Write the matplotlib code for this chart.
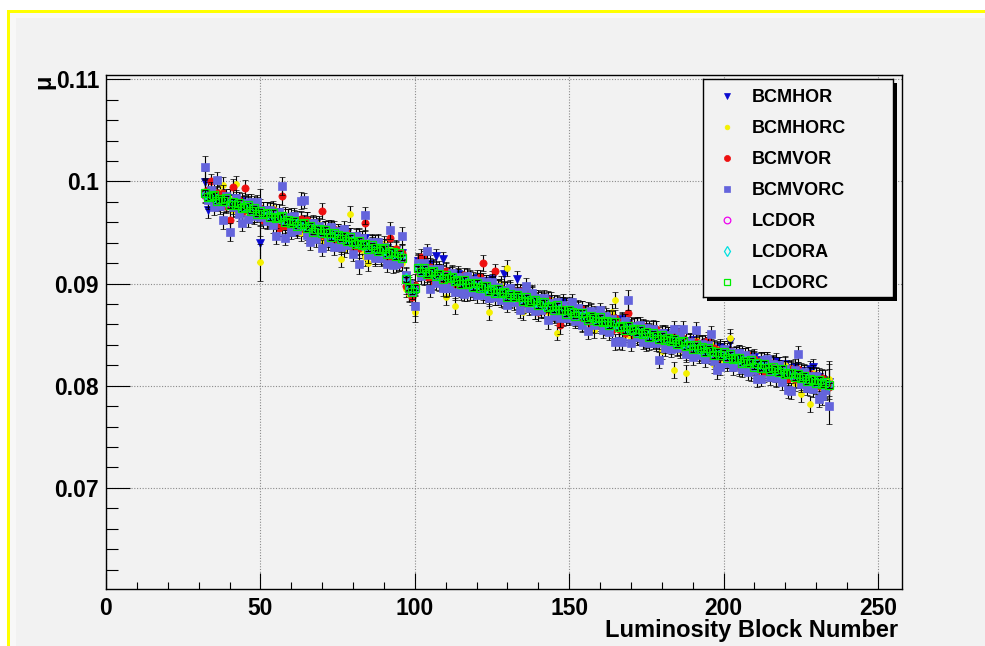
import numpy as np
import matplotlib
matplotlib.use("Agg")
import matplotlib.pyplot as plt
from matplotlib.patches import Rectangle
from matplotlib.ticker import MultipleLocator, FuncFormatter

plt.rcParams['font.family'] = ['Liberation Sans', 'DejaVu Sans']
plt.rcParams['font.weight'] = 'bold'

# Luminosity blocks 32 .. 234
lumi_block = np.arange(32, 235)

# mu per luminosity block for each algorithm, in units of 1e-5
bcmhor = [
    9995, 9720, 9830, 9851, 9787, 9882, 9828, 9773, 9834, 9774,
    9800, 9725, 9811, 9731, 9767, 9667, 9738, 9753, 9393, 9664,
    9720, 9640, 9676, 9701, 9597, 9642, 9603, 9648, 9549, 9619,
    9550, 9620, 9586, 9506, 9577, 9522, 9583, 9478, 9519, 9534,
    9470, 9530, 9426, 9476, 9492, 9412, 9493, 9413, 9364, 9429,
    9440, 9360, 9446, 9326, 9377, 9402, 9303, 9343, 9259, 9349,
    9330, 9245, 9331, 9251, 9297, 9070, 8905, 8955, 8910, 9220,
    9191, 9163, 9084, 9196, 9157, 9269, 9110, 9242, 9118, 9035,
    9086, 9003, 9094, 9041, 8967, 9059, 9005, 8957, 9053, 9010,
    9021, 8928, 8989, 9046, 8897, 8959, 8970, 9092, 8853, 8940,
    8916, 9048, 8829, 8911, 8867, 8789, 8895, 8832, 8773, 8850,
    8751, 8838, 8794, 8706, 8802, 8724, 8820, 8742, 8673, 8750,
    8756, 8668, 8754, 8636, 8692, 8724, 8600, 8677, 8683, 8610,
    8656, 8573, 8664, 8611, 8537, 8649, 8550, 8607, 8578, 8510,
    8581, 8503, 8574, 8461, 8532, 8559, 8450, 8497, 8423, 8520,
    8421, 8493, 8454, 8371, 8487, 8389, 8440, 8347, 8443, 8400,
    8406, 8323, 8414, 8321, 8382, 8279, 8345, 8382, 8268, 8345,
    8431, 8233, 8309, 8316, 8217, 8294, 8180, 8257, 8283, 8180,
    8256, 8158, 8254, 8211, 8117, 8244, 8175, 8112, 8213, 8170,
    8151, 8183, 8059, 8146, 8102, 8029, 8160, 8180, 8063, 8090,
    8066, 7993, 8039,
]

bcmhorc = [
    9910, 9810, 9876, 9901, 9797, 9892, 9963, 9783, 9839, 9724,
    9975, 9720, 9786, 9676, 9792, 9747, 9678, 9773, 9210, 9724,
    9620, 9705, 9741, 9611, 9667, 9557, 9673, 9583, 9664, 9549,
    9630, 9495, 9596, 9621, 9492, 9557, 9493, 9588, 9419, 9539,
    9440, 9540, 9441, 9506, 9240, 9342, 9473, 9677, 9344, 9364,
    9445, 9325, 9256, 9200, 9397, 9267, 9368, 9283, 9384, 9239,
    9340, 9235, 9351, 9236, 9202, 8950, 8895, 8960, 8720, 9100,
    9181, 9063, 9149, 9066, 9167, 9059, 9005, 9112, 8870, 9085,
    8991, 8780, 9074, 8951, 9042, 8914, 9055, 8947, 8958, 9025,
    8921, 9013, 8720, 8986, 8862, 8954, 9000, 8857, 9150, 8855,
    8921, 8798, 8889, 8721, 8897, 8794, 8890, 8727, 8833, 8745,
    8831, 8723, 8844, 8721, 8520, 8784, 8660, 8787, 8693, 8775,
    8656, 8743, 8614, 8711, 8737, 8624, 8545, 8697, 8603, 8700,
    8576, 8673, 8724, 8840, 8547, 8634, 8500, 8597, 8463, 8590,
    8596, 8478, 8559, 8416, 8557, 8459, 8555, 8417, 8338, 8505,
    8411, 8498, 8150, 8466, 8347, 8469, 8120, 8427, 8328, 8450,
    8416, 8293, 8384, 8296, 8412, 8204, 8355, 8252, 8358, 8255,
    8470, 8223, 8309, 8176, 8307, 8204, 8300, 8122, 8253, 8145,
    8251, 8118, 8219, 8126, 8227, 8064, 8175, 8077, 8203, 8080,
    8171, 8023, 8139, 7920, 8127, 8009, 7820, 8122, 7998, 8070,
    7976, 8058, 8069,
]

bcmvor = [
    9900, 9920, 10000, 9801, 9887, 9797, 9883, 9758, 9620, 9944,
    9740, 9820, 9696, 9940, 9777, 9677, 9783, 9678, 9744, 9619,
    9725, 9630, 9721, 9616, 9542, 9855, 9568, 9653, 9534, 9644,
    9540, 9630, 9536, 9626, 9487, 9577, 9553, 9468, 9710, 9464,
    9540, 9435, 9536, 9391, 9487, 9392, 9493, 9463, 9349, 9459,
    9345, 9445, 9590, 9326, 9402, 9260, 9393, 9268, 9354, 9264,
    9450, 9250, 9336, 9196, 9302, 8980, 8980, 8870, 8990, 9210,
    9260, 9240, 9064, 9166, 9027, 9134, 9110, 9017, 9128, 9015,
    9101, 8993, 9069, 8961, 9082, 8969, 9045, 8917, 9023, 9060,
    9201, 8913, 8899, 8996, 9120, 8869, 8955, 8837, 8948, 8845,
    8926, 8828, 8924, 8796, 8877, 8894, 8780, 8857, 8718, 8845,
    8741, 8843, 8739, 8811, 8697, 8590, 8795, 8692, 8793, 8685,
    8751, 8643, 8749, 8641, 8707, 8599, 8705, 8687, 8588, 8695,
    8581, 8668, 8544, 8666, 8552, 8624, 8520, 8710, 8593, 8490,
    8591, 8483, 8584, 8451, 8542, 8444, 8555, 8442, 8513, 8395,
    8501, 8388, 8474, 8526, 8372, 8469, 8330, 8437, 8343, 8430,
    8321, 8418, 8314, 8451, 8282, 8369, 8255, 8347, 8363, 8250,
    8341, 8228, 8319, 8191, 8287, 8189, 8300, 8187, 8263, 8145,
    8241, 8133, 8239, 8131, 8222, 8109, 8200, 8077, 8168, 8070,
    8166, 8063, 8159, 8036, 8122, 8009, 8110, 8007, 8103, 7995,
    8071, 7983, 7989,
]

bcmvorc = [
    10140, 9820, 9921, 9751, 10017, 9762, 9620, 9853, 9503, 9754,
    9835, 9685, 9590, 9786, 9637, 9802, 9658, 9798, 9649, 9719,
    9610, 9720, 9571, 9470, 9702, 9955, 9450, 9653, 9504, 9664,
    9525, 9810, 9815, 9476, 9410, 9597, 9438, 9568, 9349, 9539,
    9410, 9550, 9361, 9511, 9362, 9532, 9373, 9463, 9294, 9464,
    9190, 9445, 9667, 9276, 9407, 9247, 9408, 9248, 9359, 9189,
    9520, 9180, 9191, 9211, 9470, 9080, 9000, 8930, 8780, 9200,
    9071, 9203, 9320, 8950, 9147, 9009, 9140, 8952, 8953, 8955,
    9106, 8918, 9069, 8921, 8902, 9074, 8915, 9037, 8884, 9030,
    8891, 9013, 8854, 9016, 8867, 8969, 8840, 8942, 8793, 8955,
    8816, 8918, 8740, 8911, 8980, 8764, 8905, 8727, 8858, 8740,
    8861, 8640, 8814, 8686, 8817, 8659, 8790, 8662, 8763, 8820,
    8636, 8758, 8599, 8721, 8540, 8734, 8595, 8697, 8738, 8550,
    8681, 8523, 8654, 8430, 8437, 8430, 8630, 8840, 8420, 8585,
    8476, 8598, 8429, 8561, 8422, 8554, 8415, 8250, 8518, 8370,
    8501, 8363, 8560, 8366, 8487, 8560, 8310, 8432, 8283, 8550,
    8296, 8408, 8259, 8401, 8510, 8244, 8150, 8180, 8358, 8220,
    8331, 8183, 8304, 8320, 8167, 8299, 8130, 8272, 8153, 8070,
    8070, 8248, 8260, 8081, 8212, 8074, 8205, 8037, 8168, 7955,
    7950, 8153, 8310, 8016, 8137, 7979, 8100, 7972, 8093, 7870,
    7900, 7958, 7800,
]

lcdor = [
    9866, 9869, 9845, 9850, 9828, 9831, 9808, 9812, 9789, 9792,
    9770, 9773, 9750, 9754, 9731, 9735, 9712, 9716, 9694, 9697,
    9675, 9678, 9655, 9660, 9636, 9640, 9617, 9621, 9598, 9602,
    9580, 9583, 9560, 9564, 9541, 9545, 9522, 9526, 9503, 9507,
    9485, 9488, 9465, 9469, 9446, 9450, 9427, 9431, 9408, 9412,
    9390, 9393, 9370, 9374, 9351, 9355, 9332, 9336, 9313, 9317,
    9295, 9298, 9275, 9279, 9256, 9028, 8940, 8925, 8948, 9135,
    9137, 9116, 9120, 9100, 9104, 9083, 9087, 9066, 9070, 9049,
    9053, 9032, 9036, 9015, 9019, 8998, 9002, 8981, 8985, 8964,
    8968, 8947, 8951, 8930, 8934, 8913, 8917, 8896, 8900, 8879,
    8883, 8862, 8866, 8845, 8849, 8828, 8832, 8811, 8815, 8794,
    8798, 8777, 8781, 8760, 8764, 8743, 8747, 8726, 8730, 8709,
    8713, 8692, 8696, 8675, 8679, 8658, 8662, 8641, 8645, 8624,
    8628, 8607, 8611, 8590, 8594, 8573, 8577, 8556, 8560, 8539,
    8543, 8522, 8526, 8505, 8509, 8488, 8492, 8471, 8475, 8454,
    8458, 8437, 8441, 8420, 8424, 8403, 8407, 8386, 8390, 8369,
    8373, 8352, 8356, 8335, 8339, 8318, 8322, 8301, 8305, 8284,
    8288, 8267, 8271, 8250, 8254, 8233, 8237, 8216, 8220, 8199,
    8203, 8182, 8186, 8165, 8169, 8148, 8152, 8131, 8135, 8114,
    8118, 8097, 8101, 8080, 8084, 8063, 8067, 8046, 8050, 8029,
    8033, 8012, 8016,
]

lcdora = [
    9880, 9852, 9860, 9836, 9840, 9815, 9821, 9798, 9800, 9779,
    9782, 9760, 9751, 9750, 9732, 9729, 9714, 9711, 9693, 9692,
    9685, 9665, 9657, 9655, 9638, 9636, 9619, 9608, 9610, 9588,
    9590, 9570, 9572, 9550, 9553, 9532, 9534, 9513, 9515, 9494,
    9496, 9475, 9477, 9456, 9458, 9437, 9439, 9418, 9420, 9399,
    9401, 9380, 9382, 9361, 9363, 9342, 9344, 9323, 9325, 9304,
    9306, 9285, 9287, 9266, 9268, 9050, 8955, 8938, 8935, 9150,
    9125, 9130, 9108, 9112, 9090, 9095, 9074, 9078, 9057, 9061,
    9040, 9044, 9023, 9027, 9006, 9010, 8989, 8993, 8972, 8976,
    8955, 8959, 8938, 8942, 8921, 8925, 8904, 8908, 8887, 8891,
    8870, 8874, 8853, 8857, 8836, 8840, 8819, 8823, 8802, 8806,
    8785, 8789, 8768, 8772, 8751, 8755, 8734, 8738, 8717, 8721,
    8700, 8704, 8683, 8687, 8666, 8670, 8649, 8653, 8632, 8636,
    8615, 8619, 8598, 8602, 8581, 8585, 8564, 8568, 8547, 8551,
    8530, 8534, 8513, 8517, 8496, 8500, 8479, 8483, 8462, 8466,
    8445, 8449, 8428, 8432, 8411, 8415, 8394, 8398, 8377, 8381,
    8360, 8364, 8343, 8347, 8326, 8330, 8309, 8313, 8292, 8296,
    8275, 8279, 8258, 8262, 8241, 8245, 8224, 8228, 8207, 8211,
    8190, 8194, 8173, 8177, 8156, 8160, 8139, 8143, 8122, 8126,
    8105, 8109, 8088, 8092, 8071, 8075, 8054, 8058, 8037, 8041,
    8020, 8024, 8003,
]

lcdorc = [
    9890, 9845, 9856, 9866, 9812, 9832, 9808, 9833, 9769, 9799,
    9765, 9790, 9736, 9751, 9767, 9712, 9738, 9683, 9709, 9684,
    9695, 9650, 9691, 9641, 9647, 9657, 9598, 9623, 9589, 9614,
    9565, 9585, 9591, 9541, 9567, 9507, 9533, 9533, 9499, 9529,
    9495, 9455, 9491, 9471, 9437, 9467, 9413, 9453, 9409, 9389,
    9420, 9375, 9391, 9341, 9377, 9352, 9318, 9338, 9344, 9294,
    9310, 9310, 9266, 9296, 9252, 9040, 8960, 8920, 8960, 9150,
    9116, 9148, 9094, 9116, 9127, 9079, 9095, 9047, 9083, 9050,
    9066, 9023, 9039, 8996, 9037, 8999, 9010, 8967, 9008, 8960,
    8976, 8978, 8924, 8946, 8912, 8949, 8905, 8922, 8868, 8895,
    8866, 8888, 8864, 8826, 8867, 8819, 8835, 8837, 8788, 8815,
    8816, 8768, 8784, 8746, 8787, 8739, 8745, 8707, 8743, 8720,
    8686, 8713, 8714, 8671, 8647, 8684, 8665, 8632, 8668, 8625,
    8631, 8593, 8624, 8626, 8572, 8584, 8545, 8587, 8543, 8560,
    8521, 8553, 8509, 8526, 8477, 8514, 8490, 8457, 8493, 8450,
    8471, 8433, 8459, 8406, 8427, 8439, 8385, 8397, 8358, 8395,
    8361, 8378, 8329, 8366, 8342, 8299, 8330, 8297, 8328, 8275,
    8306, 8258, 8274, 8276, 8227, 8244, 8220, 8247, 8188, 8220,
    8176, 8213, 8174, 8146, 8182, 8164, 8130, 8167, 8118, 8125,
    8126, 8083, 8119, 8076, 8097, 8044, 8070, 8057, 8028, 8060,
    8016, 8033, 8004,
]

# statistical uncertainty per luminosity block (1e-5 units)
err_bcm = [
    110, 75, 70, 80, 72, 78, 85, 70, 90, 75,
    80, 72, 76, 70, 85, 74, 78, 72, 180, 76,
    74, 80, 72, 78, 76, 90, 74, 80, 72, 78,
    76, 82, 74, 78, 80, 72, 78, 74, 80, 76,
    78, 72, 80, 76, 74, 82, 76, 78, 72, 80,
    95, 74, 80, 76, 78, 72, 80, 74, 78, 76,
    80, 74, 78, 76, 82, 78, 80, 84, 100, 76,
    74, 78, 72, 80, 76, 74, 78, 72, 80, 76,
    76, 80, 74, 78, 72, 80, 76, 74, 78, 72,
    80, 74, 78, 76, 72, 80, 74, 78, 76, 80,
    72, 78, 76, 80, 74, 72, 78, 76, 80, 74,
    78, 80, 72, 76, 74, 80, 78, 72, 76, 80,
    74, 78, 76, 72, 80, 74, 78, 76, 72, 80,
    76, 72, 80, 78, 74, 76, 72, 100, 78, 74,
    80, 76, 72, 78, 74, 80, 76, 78, 72, 76,
    74, 80, 78, 72, 76, 74, 80, 78, 76, 72,
    78, 74, 80, 76, 72, 78, 80, 74, 76, 78,
    90, 76, 74, 80, 78, 72, 76, 80, 74, 78,
    76, 80, 74, 78, 72, 76, 80, 74, 78, 76,
    80, 74, 78, 76, 80, 74, 78, 80, 76, 82,
    90, 100, 170,
]
err_lcd = 25

series_names = ["BCMHOR", "BCMHORC", "BCMVOR", "BCMVORC", "LCDOR", "LCDORA", "LCDORC"]
series_values = [bcmhor, bcmhorc, bcmvor, bcmvorc, lcdor, lcdora, lcdorc]
series_errors = [err_bcm, err_bcm, err_bcm, err_bcm, err_lcd, err_lcd, err_lcd]

styles = {
    "BCMHOR":  dict(marker="v", ms=5.6, mfc="#0a0ad0", mec="#0a0ad0", mew=0.5),
    "BCMHORC": dict(marker="o", ms=4.3, mfc="#f4f000", mec="#f4f000", mew=0.5),
    "BCMVOR":  dict(marker="o", ms=5.2, mfc="#ee1010", mec="#ee1010", mew=0.5),
    "BCMVORC": dict(marker="s", ms=5.8, mfc="#6464dc", mec="#6464dc", mew=0.5),
    "LCDOR":   dict(marker="o", ms=5.4, mfc="none", mec="#ee00ee", mew=0.9),
    "LCDORA":  dict(marker="d", ms=5.4, mfc="none", mec="#00e0e0", mew=0.9),
    "LCDORC":  dict(marker="s", ms=5.4, mfc="none", mec="#00ee00", mew=0.9),
}
legend_sizes = {"BCMHOR": 4.6, "BCMHORC": 3.4, "BCMVOR": 4.4, "BCMVORC": 4.4,
                "LCDOR": 4.8, "LCDORA": 4.8, "LCDORC": 4.8}

W, H = 985, 646
fig = plt.figure(figsize=(W / 100, H / 100), dpi=100)
fig.patch.set_facecolor("white")


def px_rect(x0, y0, x1, y1, **kw):
    """Rectangle given in pixel coordinates measured from the top-left corner."""
    return Rectangle((x0 / W, 1 - y1 / H), (x1 - x0) / W, (y1 - y0) / H,
                     transform=fig.transFigure, **kw)


canvas_gray = "#f2f2f2"
fig.add_artist(px_rect(7, 10, W, H, fc=canvas_gray, ec="none", zorder=-5))
fig.add_artist(px_rect(9, 12.5, W, H, fc="#f8f8f8", ec="none", zorder=-4))
fig.add_artist(px_rect(16, 18, W, H, fc=canvas_gray, ec="none", zorder=-3))
fig.add_artist(px_rect(7, 10, W, 12.5, fc="#ffff00", ec="none", zorder=-2))
fig.add_artist(px_rect(7, 10, 9.5, H, fc="#ffff00", ec="none", zorder=-2))

ax = fig.add_axes([106 / W, 1 - 589 / H, (902 - 106) / W, (589 - 75) / H])
ax.set_facecolor(canvas_gray)

for i, (name, vals, err) in enumerate(zip(series_names, series_values, series_errors)):
    y = np.asarray(vals) * 1e-5
    yerr = np.asarray(err) * 1e-5 if np.ndim(err) else np.full(len(y), err * 1e-5)
    ax.errorbar(lumi_block, y, yerr=yerr, linestyle="none",
                ecolor="black", elinewidth=0.8, capsize=2.4, capthick=0.8,
                zorder=3 + i, **styles[name])

ax.set_xlim(0, 257.8)
ax.set_ylim(0.0601, 0.11042)

ax.xaxis.set_major_locator(MultipleLocator(50))
ax.xaxis.set_minor_locator(MultipleLocator(10))
ax.yaxis.set_major_locator(MultipleLocator(0.01))
ax.yaxis.set_minor_locator(MultipleLocator(0.002))
ax.yaxis.set_major_formatter(FuncFormatter(lambda v, p: f"{v:.2f}".rstrip("0")))

ax.tick_params(axis="x", which="major", direction="in", length=11.5, width=0.8,
               pad=5.5, labelsize=16.5, top=False)
ax.tick_params(axis="x", which="minor", direction="in", length=5, width=0.8, top=False)
ax.tick_params(axis="y", which="major", direction="in", length=17, width=0.8,
               pad=5, labelsize=16.5, right=False)
ax.tick_params(axis="y", which="minor", direction="in", length=8.6, width=0.8, right=False)

ax.grid(True, which="major", color="#8a8a8a", linestyle=(0, (1, 1.5)), linewidth=0.8)
ax.set_axisbelow(True)
for sp in ax.spines.values():
    sp.set_linewidth(1.0)
    sp.set_color("black")

fig.text(898 / W, 1 - 637 / H, "Luminosity Block Number", ha="right", va="baseline",
         fontsize=17, fontweight="bold")
fig.text(43.5 / W, 1 - 75 / H, "μ", rotation=90, ha="center", va="top",
         fontsize=17, fontweight="bold")

# legend box with drop shadow
lx0, ly0, lx1, ly1 = 703, 79, 893, 297
fig.add_artist(px_rect(lx0 + 4, ly0 + 4, lx1 + 4, ly1 + 4, fc="black", ec="none", zorder=8))
leg = fig.add_axes([lx0 / W, 1 - ly1 / H, (lx1 - lx0) / W, (ly1 - ly0) / H], zorder=9)
leg.set_facecolor(canvas_gray)
leg.set_xlim(0, 1)
leg.set_ylim(0, 1)
leg.set_xticks([])
leg.set_yticks([])
for sp in leg.spines.values():
    sp.set_linewidth(1.0)
    sp.set_color("black")

row_y = np.linspace(0.923, 0.070, len(series_names))
for name, yy in zip(series_names, row_y):
    st = dict(styles[name])
    st["ms"] = legend_sizes[name]
    leg.plot([0.125], [yy], linestyle="none", **st)
    leg.text(0.256, yy, name, va="center_baseline", ha="left", fontsize=13,
             fontweight="bold")

fig.savefig("out.png", dpi=100, facecolor=fig.get_facecolor())
